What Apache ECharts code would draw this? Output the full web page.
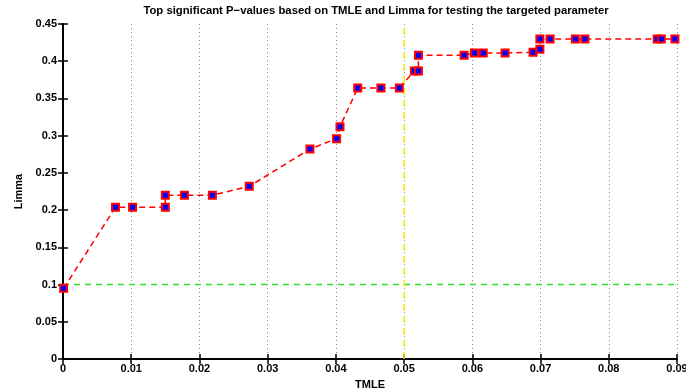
<!DOCTYPE html>
<html>
<head>
<meta charset="utf-8">
<script src="https://cdn.jsdelivr.net/npm/echarts@6/dist/echarts.min.js"></script>
<style>
  html, body { margin: 0; padding: 0; background: #fff; }
  #main { width: 686px; height: 391px; }
</style>
</head>
<body>
<div id="main"></div>
<script>
// values
const tmle = [0.0001, 0.0077, 0.0102, 0.0150, 0.0150, 0.0178, 0.0219, 0.0273,
  0.0362, 0.0401, 0.0406, 0.0432, 0.0466, 0.0493, 0.0515, 0.0521, 0.0521,
  0.0588, 0.0603, 0.0616, 0.0648, 0.0689, 0.0699, 0.0699, 0.0714, 0.0751,
  0.0765, 0.0871, 0.0877, 0.0897];
const limma = [0.095, 0.204, 0.204, 0.204, 0.220, 0.220, 0.220, 0.232,
  0.282, 0.296, 0.312, 0.364, 0.364, 0.364, 0.387, 0.387, 0.408,
  0.408, 0.411, 0.411, 0.411, 0.412, 0.416, 0.430, 0.430, 0.430,
  0.430, 0.430, 0.430, 0.430];
const cutLimma = 0.1;
const cutTmle = 0.05;
const xMax = 0.09;
const yMax = 0.45;

const font = '"Liberation Sans Narrow", "Liberation Sans", Arial, sans-serif';
const $ = document.querySelector.bind(document);
const chart = echarts.init($('#main'));

const points = tmle.map((x, i) => [x, limma[i]]);

// eixo sem rotulo, so pros ticks de cima e da direita
const boxAxis = {
  axisLine: { show: true, lineStyle: { color: '#000', width: 2 } },
  axisTick: { show: true, inside: true, length: 5, lineStyle: { color: '#000', width: 1.5 } },
  axisLabel: { show: false },
  splitLine: { show: false }
};

chart.setOption({
  animation: false,
  title: {
    text: 'Top significant P\u2212values based on TMLE and Limma for testing the targeted parameter',
    left: 371, top: 0, textAlign: 'center',
    textStyle: { fontFamily: font, fontSize: 11.3, fontWeight: 'bold', color: '#000' }
  },
  grid: { left: 63, right: 9, top: 24, bottom: 32, outerBoundsMode: 'none' },
  xAxis: [{
    type: 'value', min: 0, max: xMax, interval: 0.01,
    name: 'TMLE', nameLocation: 'middle', nameGap: 20,
    nameTextStyle: { fontFamily: font, fontSize: 11, fontWeight: 'bold', color: '#000' },
    axisLine: { lineStyle: { color: '#000', width: 2 } },
    axisTick: { inside: true, length: 5, lineStyle: { color: '#000', width: 1.5 } },
    axisLabel: {
      fontFamily: font, fontSize: 11, fontWeight: 'bold', color: '#000', margin: 4,
      formatter: v => v === 0 ? '0' : String(+v.toFixed(2))
    },
    splitLine: { show: true, lineStyle: { color: '#888', type: [1, 3], width: 1 } }
  }, Object.assign({ type: 'value', position: 'top', min: 0, max: xMax, interval: 0.01 }, boxAxis)],
  yAxis: [{
    type: 'value', min: 0, max: yMax, interval: 0.05,
    name: 'Limma', nameLocation: 'middle', nameGap: 38,
    nameTextStyle: { fontFamily: font, fontSize: 11, fontWeight: 'bold', color: '#000' },
    axisLine: { show: true, lineStyle: { color: '#000', width: 2 } },
    axisTick: { show: true, inside: true, length: 5, lineStyle: { color: '#000', width: 1.5 } },
    axisLabel: {
      fontFamily: font, fontSize: 11, fontWeight: 'bold', color: '#000', margin: 6,
      formatter: v => v === 0 ? '0' : String(+v.toFixed(2))
    },
    splitLine: { show: false }
  }, Object.assign({ type: 'value', position: 'right', min: 0, max: yMax, interval: 0.05 }, boxAxis)],
  series: [{
    // linha de corte do Limma
    type: 'line',
    data: [[0, cutLimma], [xMax, cutLimma]],
    symbol: 'none',
    color: '#33dd33',
    lineStyle: { color: '#33dd33', width: 1.5, type: [6, 5], opacity: 1 },
    z: 3
  }, {
    // linha de corte do TMLE
    type: 'line',
    data: [[cutTmle, 0], [cutTmle, yMax]],
    symbol: 'none',
    color: '#f2f200',
    lineStyle: { color: '#f2f200', width: 1.5, type: [7, 5], opacity: 1 },
    z: 3
  }, {
    type: 'line',
    data: points,
    symbol: 'rect',
    symbolSize: 7,
    itemStyle: { color: '#0000ff', borderColor: '#ff0000', borderWidth: 2 },
    lineStyle: { color: '#ff0000', width: 1.5, type: [6, 4] },
    z: 5
  }]
});
</script>
</body>
</html>
